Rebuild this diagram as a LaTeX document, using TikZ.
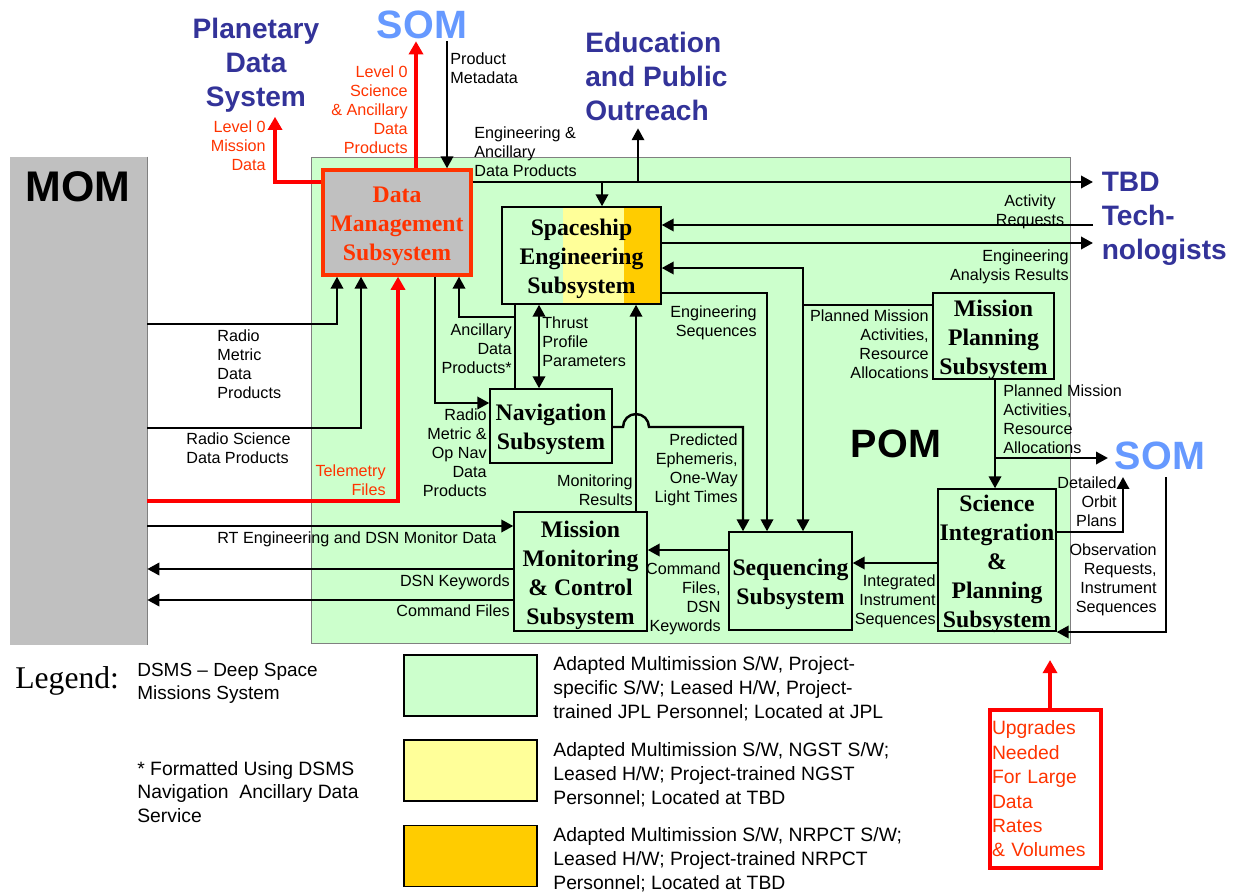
\documentclass[tikz,border=0pt]{standalone}
\usepackage{fontspec}
\setmainfont{Liberation Serif}
\setsansfont{Liberation Sans}
\usetikzlibrary{arrows.meta}
\definecolor{pomgreen}{HTML}{CCFFCC}
\definecolor{ngstyellow}{HTML}{FFFF99}
\definecolor{nrpctorange}{HTML}{FFCC00}
\definecolor{momgray}{HTML}{C0C0C0}
\definecolor{dmsred}{HTML}{FF3300}
\definecolor{linered}{HTML}{FF0000}
\definecolor{extblue}{HTML}{333399}
\definecolor{somblue}{HTML}{6699FF}
\newcommand{\boxtop}{\rule{0pt}{0.98em}}
\begin{document}
\begin{tikzpicture}[x=0.02cm, y=-0.02cm,
	sub/.style={draw, line width=0.8pt, fill=pomgreen, inner sep=0pt, align=center, font=\fontsize{13.5}{16.5}\selectfont\bfseries},
	lbl/.style={inner sep=0pt, font=\sffamily\fontsize{9.2}{10.9}\selectfont},
	redlbl/.style={lbl, text=dmsred},
	ext/.style={inner sep=0pt, text=extblue, font=\sffamily\bfseries\fontsize{16}{19.3}\selectfont},
	som/.style={inner sep=0pt, text=somblue, font=\sffamily\bfseries\fontsize{22.5}{26}\selectfont},
	line/.style={line width=1.4pt},
	flow/.style={line width=1.4pt, -{Triangle[length=6.8pt,width=7pt]}},
	dflow/.style={line width=1.4pt, {Triangle[length=6.8pt,width=7pt]}-{Triangle[length=6.8pt,width=7pt]}},
	redflow/.style={line width=2.6pt, draw=linered, -{Triangle[length=7.5pt,width=8pt]}},
	legtxt/.style={inner sep=0pt, align=left, font=\sffamily\fontsize{11}{13.6}\selectfont},
	legbox/.style={draw, line width=0.8pt, minimum width=2.66cm, minimum height=1.22cm}]
	\useasboundingbox (0,0) rectangle (1236,892);
	% POM and MOM areas
	\fill[pomgreen, draw=gray, line width=0.4pt] (311,157) rectangle (1070,643);
	\node[fill=momgray, inner sep=0pt, minimum width=2.74cm, minimum height=9.76cm] (mom) at (78.5,401) {};
	\draw[gray, line width=0.4pt] (mom.north east) -- (mom.south east);
	\node[font=\sffamily\bfseries\fontsize{24.4}{28}\selectfont] (momlbl) at (78,187) {MOM};
	\node[font=\sffamily\bfseries\fontsize{22.5}{26}\selectfont] (pom) at (896,444) {POM};
	% outside systems
	\node[ext, align=center, anchor=north, outer ysep=2.5pt] (pds) at (256,14) {Planetary\\Data\\System};
	\node[som, anchor=north, outer ysep=1.5pt] (somtop) at (422,8) {SOM};
	\node[ext, align=left, anchor=north west, outer ysep=4.5pt] (epo) at (585,24) {Education\\and Public\\Outreach};
	\node[ext, align=left, anchor=north west, outer xsep=5pt] (tbd) at (1093,172) {TBD\\Tech-\\nologists};
	\node[som, anchor=north, outer sep=4pt] (somright) at (1160,435) {SOM};
	% subsystems
	\node[sub, draw=dmsred, line width=1.9pt, fill=momgray, text=dmsred, minimum width=2.96cm, minimum height=2.1cm] (dms) at (397,222.5) {\boxtop Data\\Management\\Subsystem};
	\fill[ngstyellow] (563,207) rectangle (624,304);
	\fill[nrpctorange] (624,207) rectangle (661,304);
	\node[sub, fill=none, minimum width=3.18cm, minimum height=1.94cm] (ses) at (581.5,255.5) {\boxtop Spaceship\\Engineering\\Subsystem};
	\node[sub, minimum width=2.44cm, minimum height=1.48cm] (nav) at (551,426) {\boxtop Navigation\\Subsystem};
	\node[sub, minimum width=2.66cm, minimum height=2.38cm] (mmc) at (580.5,571.5) {\boxtop Mission\\Monitoring\\\& Control\\Subsystem};
	\node[sub, minimum width=2.46cm, minimum height=1.96cm] (seq) at (790.5,581) {\boxtop Sequencing\\Subsystem};
	\node[sub, inner ysep=-1pt, minimum width=2.36cm, minimum height=2.84cm] (sip) at (997,560) {\boxtop Science\\Integration\\\&\\Planning\\Subsystem};
	\node[sub, minimum width=2.42cm, minimum height=1.72cm] (mp) at (993.5,336) {\boxtop Mission\\Planning\\Subsystem};
	% junctions
	\coordinate (eaj1) at (602,182);
	\coordinate (eaj2) at (638,182);
	\coordinate (pmaj) at (803,305);
	\coordinate (ancj) at (515,317);
	\coordinate (pmaj2) at (995,458);
	% connectors
	\draw[redflow] (dms.west |- 0,182) -| (pds.south -| 275,0);
	\draw[redflow] (dms.north -| 416,0) -- (somtop.south -| 416,0);
	\draw[flow] (somtop.south -| 447,0) -- (dms.north -| 447,0);
	\draw[flow] (dms.east |- eaj1) -- (tbd.west |- eaj1);
	\draw[flow] (eaj1) -- (ses.north -| eaj1);
	\draw[flow] (eaj2) -- (epo.south -| eaj2);
	\draw[flow] (tbd.west |- 0,225) -- (ses.east |- 0,225);
	\draw[flow] (ses.east |- 0,243) -- (tbd.west |- 0,243);
	\draw[line] (mp.west |- pmaj) -- (pmaj);
	\draw[flow] (pmaj) |- (ses.east |- 0,268);
	\draw[flow] (pmaj) -- (seq.north -| pmaj);
	\draw[flow] (ses.east |- 0,293) -| (seq.north -| 767,0);
	\draw[flow] (nav.east |- 0,427) -- (623,427) arc[start angle=180, end angle=0, radius=0.26cm] -- (743,427) -- (seq.north -| 743,0);
	\draw[flow] (mmc.north -| 636,0) -- (ses.south -| 636,0);
	\draw[dflow] (nav.north -| 539,0) -- (ses.south -| 539,0);
	\draw[line] (ses.south -| ancj) -- (nav.north -| ancj);
	\draw[flow] (ancj) -| (dms.south -| 459,0);
	\draw[flow] (dms.south -| 435,0) |- (nav.west |- 0,403);
	\draw[flow] (mom.east |- 0,324) -| (dms.south -| 337,0);
	\draw[flow] (mom.east |- 0,428) -| (dms.south -| 361,0);
	\draw[redflow] (mom.east |- 0,501) -| (dms.south -| 398,0);
	\draw[flow] (mom.east |- 0,526) -- (mmc.west |- 0,526);
	\draw[flow] (mmc.west |- 0,569) -- (mom.east |- 0,569);
	\draw[flow] (mmc.west |- 0,600) -- (mom.east |- 0,600);
	\draw[flow] (seq.west |- 0,550) -- (mmc.east |- 0,550);
	\draw[flow] (sip.west |- 0,563) -- (seq.east |- 0,563);
	\draw[flow] (mp.south -| pmaj2) -- (sip.north -| pmaj2);
	\draw[flow] (pmaj2) -- (somright.west |- pmaj2);
	\draw[flow] (sip.east |- 0,532) -| (somright.south -| 1123,0);
	\draw[flow] (somright.south -| 1166,0) |- (sip.east |- 0,632);
	% connector labels
	\node[redlbl, align=right, anchor=north east] (l0m) at (266,120) {Level 0\\Mission\\Data};
	\node[redlbl, align=right, anchor=north east] (l0s) at (408,65) {Level 0\\Science\\\& Ancillary\\Data\\Products};
	\node[lbl, align=left, anchor=north west] (pmeta) at (450,52) {Product\\Metadata};
	\node[lbl, align=left, anchor=north west] (eadp) at (474,126) {Engineering \&\\Ancillary\\Data Products};
	\node[lbl, align=center, anchor=north] (actreq) at (1030,194) {Activity\\Requests};
	\node[lbl, align=right, anchor=north east] (ear) at (1069,249) {Engineering\\Analysis Results};
	\node[lbl, align=right, anchor=north east] (pma1) at (929,309) {Planned Mission\\Activities,\\Resource\\Allocations};
	\node[lbl, align=left, anchor=north west] (pma2) at (1003,384) {Planned Mission\\Activities,\\Resource\\Allocations};
	\node[lbl, align=right, anchor=north east] (engseq) at (757,305) {Engineering\\Sequences};
	\node[lbl, align=left, anchor=north west] (tpp) at (542,316) {Thrust\\Profile\\Parameters};
	\node[lbl, align=right, anchor=north east] (adp) at (512,323) {Ancillary\\Data\\Products*};
	\node[lbl, align=left, anchor=north west] (rmdp) at (217,329) {Radio\\Metric\\Data\\Products};
	\node[lbl, align=left, anchor=north west] (rsdp) at (186,432) {Radio Science\\Data Products};
	\node[redlbl, align=right, anchor=north east] (telem) at (386,464) {Telemetry\\Files};
	\node[lbl, align=right, anchor=north east] (rmon) at (487,408) {Radio\\Metric \&\\Op Nav\\Data\\Products};
	\node[lbl, align=right, anchor=north east] (monres) at (633,474) {Monitoring\\Results};
	\node[lbl, align=right, anchor=north east] (pred) at (738,433) {Predicted\\Ephemeris,\\One-Way\\Light Times};
	\node[lbl, anchor=north west] (rtdsn) at (217,531) {RT Engineering and DSN Monitor Data};
	\node[lbl, anchor=north east] (dsnkw) at (510,574) {DSN Keywords};
	\node[lbl, anchor=north east] (cmdf) at (510,604) {Command Files};
	\node[lbl, align=right, anchor=north east] (cfdk) at (721,562) {Command\\Files,\\DSN\\Keywords};
	\node[lbl, align=right, anchor=north east] (iis) at (936,574) {Integrated\\Instrument\\Sequences};
	\node[lbl, align=right, anchor=north east] (dop) at (1117,476) {Detailed\\Orbit\\Plans};
	\node[lbl, align=right, anchor=north east] (ori) at (1157,543) {Observation\\Requests,\\Instrument\\Sequences};
	% legend
	\node[inner sep=0pt, anchor=base west, font=\fontsize{18}{20}\selectfont] (legend) at (15,688) {Legend:};
	\node[legtxt, anchor=north west, font=\sffamily\fontsize{10.8}{13}\selectfont] (dsms) at (137,663) {DSMS – Deep Space\\Missions System};
	\node[legtxt, anchor=north west, font=\sffamily\fontsize{11}{13.4}\selectfont] (fmt) at (137,761) {* Formatted Using DSMS\\Navigation\ \ Ancillary Data\\Service};
	\node[legbox, fill=pomgreen] (legjplbox) at (470.5,685.5) {};
	\node[legbox, fill=ngstyellow] (legngstbox) at (470.5,770.5) {};
	\node[legbox, fill=nrpctorange] (legnrpctbox) at (470.5,856) {};
	\node[legtxt, anchor=north west] (legjpl) at (553,656) {Adapted Multimission S/W, Project-\\specific S/W; Leased H/W, Project-\\trained JPL Personnel; Located at JPL};
	\node[legtxt, anchor=north west] (legngst) at (553,742) {Adapted Multimission S/W, NGST S/W;\\Leased H/W; Project-trained NGST\\Personnel; Located at TBD};
	\node[legtxt, anchor=north west] (legnrpct) at (553,827) {Adapted Multimission S/W, NRPCT S/W;\\Leased H/W; Project-trained NRPCT\\Personnel; Located at TBD};
	\node[draw=linered, line width=1.9pt, text=dmsred, inner xsep=0.04cm, inner ysep=0pt, text width=2.14cm, align=left, minimum height=3.16cm, font=\sffamily\fontsize{11}{13.9}\selectfont] (upg) at (1045.5,789) {Upgrades\\Needed\\For Large\\Data\\Rates\\\& Volumes};
	\coordinate (upgtip) at (1050,660);
	\draw[redflow] (upg.north -| upgtip) -- (upgtip);
\end{tikzpicture}
\end{document}
